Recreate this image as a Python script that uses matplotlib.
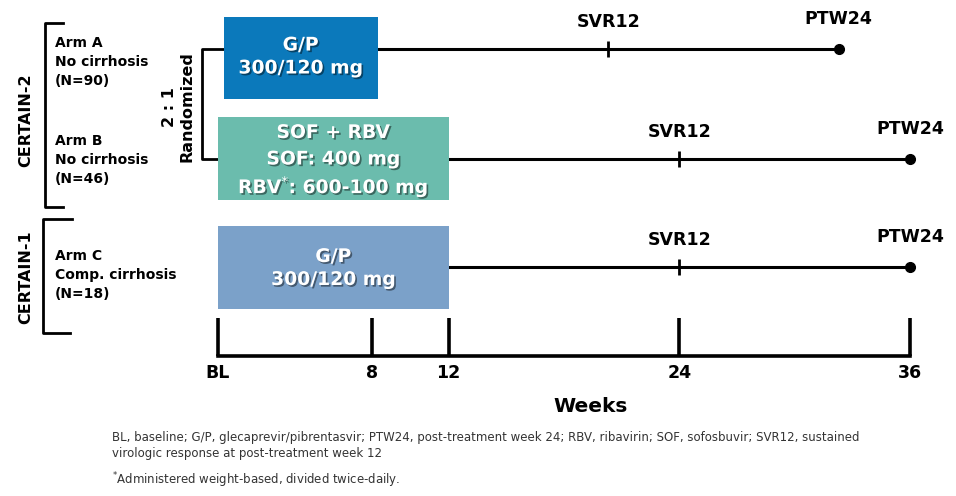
import matplotlib
matplotlib.use('Agg')
import matplotlib.pyplot as plt
import matplotlib.patheffects as pe
from matplotlib.patches import Rectangle

# study arms
studies = ['CERTAIN-2', 'CERTAIN-1']
arms = ['Arm A', 'Arm B', 'Arm C']
populations = ['No cirrhosis', 'No cirrhosis', 'Comp. cirrhosis']
n_patients = [90, 46, 18]
regimens = [['G/P', '300/120 mg'],
            ['SOF + RBV', 'SOF: 400 mg', 'RBV$^{*}$: 600-100 mg'],
            ['G/P', '300/120 mg']]
start_weeks = [0.3, 0, 0]
treat_weeks = [8, 12, 12]
svr_after = 12   # SVR12 = 12 weeks after end of treatment
ptw_after = 24   # PTW24

axis_weeks = [0, 8, 12, 24, 36]
axis_labels = ['BL', '8', '12', '24', '36']

footnotes = ['BL, baseline; G/P, glecaprevir/pibrentasvir; PTW24, post-treatment week 24; '
             'RBV, ribavirin; SOF, sofosbuvir; SVR12, sustained',
             'virologic response at post-treatment week 12',
             '$^{*}$Administered weight-based, divided twice-daily.']

W, H = 956, 496
x0, ppw = 218, 19.22          # pixel of BL, pixels per week

box_colors = ['#0b79bb', '#6bbcad', '#7ba1c9']
box_top = [17, 117, 226]
box_bot = [99, 200, 309]
line_y = [49, 159, 267]
text_y = [54.5, 157, 266]
text_gap = [23, 26.5, 23]

fig = plt.figure(figsize=(W / 100, H / 100), dpi=100)

# pixel axes for the left-hand annotations
axp = fig.add_axes([0, 0, 1, 1])
axp.set_xlim(0, W)
axp.set_ylim(H, 0)
axp.axis('off')

# timeline axes, x in weeks
ax = fig.add_axes([0, 0, 1, 1])
ax.set_xlim(-x0 / ppw, (W - x0) / ppw)
ax.set_ylim(H, 0)
ax.axis('off')
ax.patch.set_alpha(0)

shadow = [pe.SimplePatchShadow(offset=(1.2, -1.2), shadow_rgbFace='k', alpha=0.45), pe.Normal()]
bold = dict(fontweight='bold', color='black')

for i in range(len(arms)):
    s, d = start_weeks[i], treat_weeks[i]
    ax.add_patch(Rectangle((s, box_top[i]), d, box_bot[i] - box_top[i],
                           facecolor=box_colors[i], edgecolor='none', zorder=2))
    n = len(regimens[i])
    for j, txt in enumerate(regimens[i]):
        ax.text(s + d / 2, text_y[i] + (j - (n - 1) / 2) * text_gap[i], txt,
                ha='center', va='center_baseline', color='white', fontsize=13.5,
                fontweight='bold', path_effects=shadow, zorder=3)

    end = s + d
    svr = end + svr_after
    ptw = end + ptw_after
    ax.plot([end, ptw], [line_y[i], line_y[i]], color='black', lw=2.2, zorder=1)
    ax.plot([svr], [line_y[i]], marker='|', ms=12, mew=2, color='black')
    ax.plot([ptw], [line_y[i]], marker='o', ms=7, color='black')
    ax.text(svr, line_y[i] - 27, 'SVR12', ha='center', va='center', fontsize=12.5, **bold)
    ax.text(ptw, line_y[i] - 30, 'PTW24', ha='center', va='center', fontsize=12.5, **bold)

# time axis
ax.plot([axis_weeks[0], axis_weeks[-1]], [356, 356], color='black', lw=2.6,
        solid_capstyle='projecting')
ax.vlines(axis_weeks, 318, 356, color='black', lw=2.6)
for w, lab in zip(axis_weeks, axis_labels):
    ax.text(w, 373, lab, ha='center', va='center', fontsize=12.5, **bold)
ax.text(19.4, 407, 'Weeks', ha='center', va='center', fontsize=14.5, **bold)

# randomisation bracket
axp.plot([223, 202, 202, 217], [49, 49, 159, 159], color='black', lw=2)
axp.text(170, 107, '2 : 1', rotation=90, ha='center', va='center', fontsize=11.5, **bold)
axp.text(187, 107, 'Randomized', rotation=90, ha='center', va='center', fontsize=11.5, **bold)

# study brackets
axp.plot([63, 45, 45, 63], [23, 23, 207, 207], color='black', lw=2)
axp.plot([72, 43, 43, 70], [219, 219, 333, 333], color='black', lw=2)
axp.text(26, 120, studies[0], rotation=90, ha='center', va='center', fontsize=11.5, **bold)
axp.text(26, 277, studies[1], rotation=90, ha='center', va='center', fontsize=11.5, **bold)

arm_y = [62, 160, 275]
for i in range(len(arms)):
    axp.text(55, arm_y[i], f'{arms[i]}\n{populations[i]}\n(N={n_patients[i]})',
             ha='left', va='center', fontsize=10, linespacing=1.45, **bold)

for y, t in zip([437, 453, 480], footnotes):
    axp.text(112, y, t, ha='left', va='center', fontsize=8.5, color='#333333')

fig.savefig('out.png', dpi=100)
